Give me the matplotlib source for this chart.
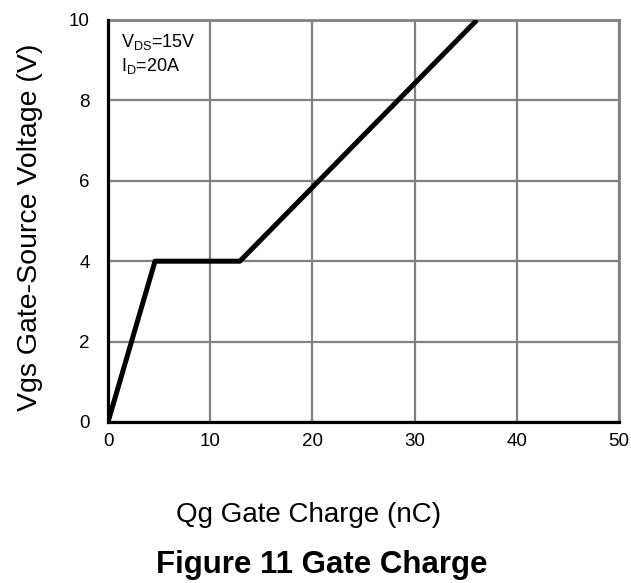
import matplotlib
matplotlib.use("Agg")
import matplotlib.pyplot as plt

plt.rcParams['font.family'] = ['Liberation Sans', 'DejaVu Sans']

# gate charge curve
qg = [0, 4.6, 12.9, 36.1]
vgs = [0, 4.0, 4.0, 10.0]

x_ticks = [0, 10, 20, 30, 40, 50]
y_ticks = [0, 2, 4, 6, 8, 10]

W, H = 631, 583
fig = plt.figure(figsize=(W / 100, H / 100), dpi=100)
ax = fig.add_axes([108 / W, 1 - 422 / H, 511 / W, 402 / H])

ax.plot(qg, vgs, color='black', linewidth=3.6, solid_capstyle='butt', zorder=5)

ax.set_xlim(0, 50)
ax.set_ylim(0, 10)
ax.set_xticks(x_ticks)
ax.set_yticks(y_ticks)
ax.grid(True, color='#808080', linewidth=1.6)
ax.tick_params(length=0, labelsize=13.5)
ax.tick_params(axis='x', pad=8)
ax.tick_params(axis='y', pad=13)

for side in ['top', 'right']:
    ax.spines[side].set_color('#808080')
    ax.spines[side].set_linewidth(2)
for side in ['left', 'bottom']:
    ax.spines[side].set_color('black')
    ax.spines[side].set_linewidth(2.3)
    ax.spines[side].set_zorder(6)

fig.text(30 / W, 1 - 227 / H, "Vgs Gate-Source Voltage (V)", fontsize=20.5,
         rotation=90, ha='center', va='center')
fig.text(309 / W, 1 - 515 / H, "Qg Gate Charge (nC)", fontsize=20,
         ha='center', va='center')
fig.text(322 / W, 1 - 565 / H, "Figure 11 Gate Charge", fontsize=22.5,
         fontweight='bold', ha='center', va='center')

ax.text(1.25, 9.7, "V$_\\mathregular{DS}$=15V\nI$_\\mathregular{D}$=20A", fontsize=13,
        ha='left', va='top', linespacing=1.25)

fig.savefig("out.png", dpi=100)
